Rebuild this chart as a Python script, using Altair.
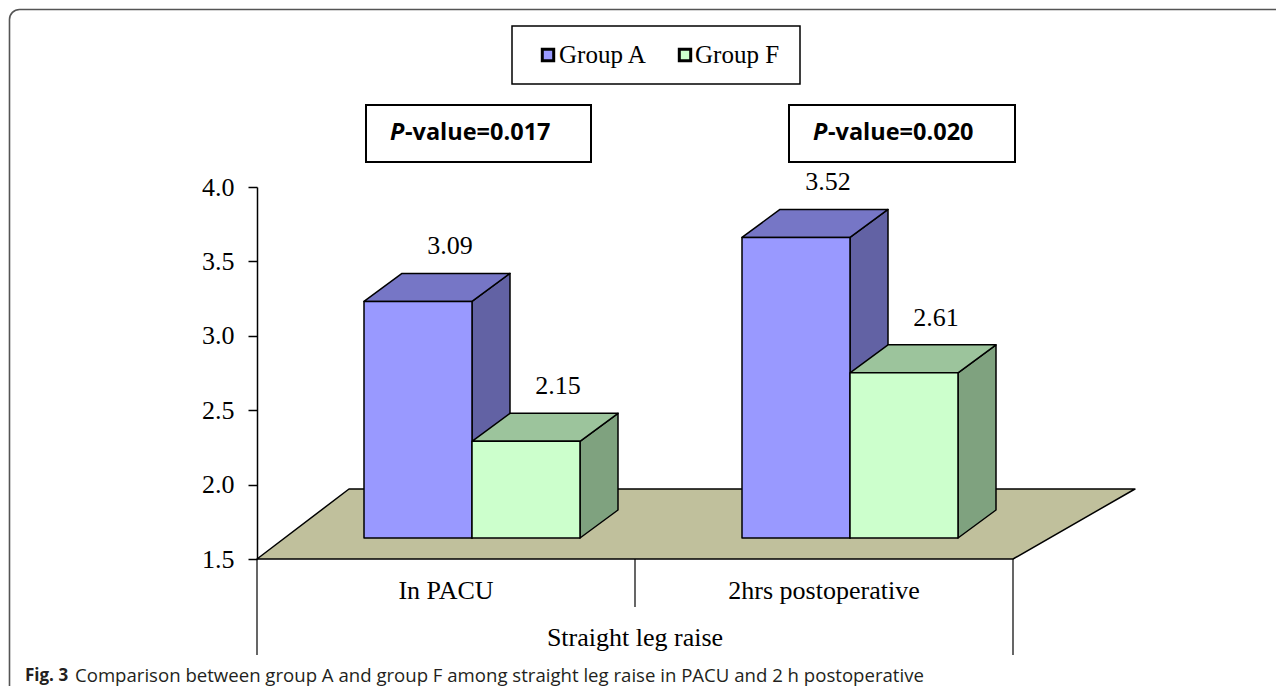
import altair as alt
import pandas as pd

# ---------------- data ----------------
categories = ["In PACU", "2hrs postoperative"]
groups = ["Group A", "Group F"]
group_a = [3.09, 3.52]
group_f = [2.15, 2.61]
p_values = ["0.017", "0.020"]
y_ticks = [1.5, 2.0, 2.5, 3.0, 3.5, 4.0]
x_title = "Straight leg raise"
caption_bold = "Fig. 3"
caption_text = "Comparison between group A and group F among straight leg raise in PACU and 2 h postoperative"

front_colors = ["#9999FF", "#CCFFCC"]
top_colors = ["#7676C6", "#9CC49C"]
side_colors = ["#6262A4", "#7FA27F"]
floor_color = "#C0C09C"

# ---------------- layout ----------------
PAD_L, PAD_T = 249, 179
W, H = 756, 372
SVG_W, SVG_H = 1268, 678
Y0, Y1 = 1.5, 4.0
PX_X = W / len(categories)
PX_Y = H / (Y1 - Y0)


def ux(px):
    return (px - 8 - PAD_L) / PX_X


def uy(py):
    return Y0 + (8 + PAD_T + H - py) / PX_Y


BAR_W = 108 / PX_X
SHIFT = 26 / PX_X
LIFT = 21 / PX_Y
DX = 38 / PX_X
DY = 28 / PX_Y
FLOOR_DXL = 92 / PX_X
FLOOR_DXR = 122 / PX_X
FLOOR_DY = 70 / PX_Y
LABEL_DX = 32 / PX_X
LABEL_DY = 55 / PX_Y

xs = alt.Scale(domain=[0, len(categories)], nice=False, zero=False)
ys = alt.Scale(domain=[Y0, Y1], nice=False, zero=False)
yaxis = alt.Axis(values=y_ticks, format=".1f", title=None, grid=False,
                 labelFont="Liberation Serif", labelFontSize=26, labelColor="black",
                 tickColor="black", tickSize=9, tickWidth=1.5, domainColor="black",
                 domainWidth=1.5, labelPadding=14)


def X(f="x", **kw):
    return alt.X(f"{f}:Q", scale=xs, axis=None, **kw)


def Y(f="y", **kw):
    return alt.Y(f"{f}:Q", scale=ys, axis=yaxis, **kw)


# ---------------- geometry from data ----------------
fronts, sides, tops, labels = [], [], [], []
series = [group_a, group_f]
for i, cat in enumerate(categories):
    c = i + 0.5
    for g, vals in enumerate(series):
        left = c + SHIFT - BAR_W if g == 0 else c + SHIFT
        right = left + BAR_W
        bottom = Y0 + LIFT
        top = vals[i] + LIFT
        bid = f"{cat}-{groups[g]}"
        fronts.append(dict(x=left, x2=right, y=bottom, y2=top, fill=front_colors[g]))
        sides.append(dict(id=bid, x=right, y=top, y2=bottom, fill=side_colors[g]))
        sides.append(dict(id=bid, x=right + DX, y=top + DY, y2=bottom + DY, fill=side_colors[g]))
        tops.append(dict(id=bid, y=top, x=left, x2=right, fill=top_colors[g]))
        tops.append(dict(id=bid, y=top + DY, x=left + DX, x2=right + DX, fill=top_colors[g]))
        labels.append(dict(x=(left + right) / 2 + LABEL_DX, y=top + LABEL_DY, t=f"{vals[i]:.2f}"))

floor = pd.DataFrame([
    dict(y=Y0, x=0, x2=len(categories)),
    dict(y=Y0 + FLOOR_DY, x=FLOOR_DXL, x2=len(categories) + FLOOR_DXR),
])

EDGE = dict(stroke="black", strokeWidth=1.5, strokeJoin="round")

floor_l = alt.Chart(floor).mark_area(orient="horizontal", fill=floor_color, opacity=1, **EDGE).encode(
    y=Y(), x=X(stack=None), x2="x2")

side_l = alt.Chart(pd.DataFrame(sides)).mark_area(orient="vertical", opacity=1, **EDGE).encode(
    x=X(), y=Y(stack=None), y2="y2", detail="id:N", fill=alt.Fill("fill:N", scale=None))

top_l = alt.Chart(pd.DataFrame(tops)).mark_area(orient="horizontal", opacity=1, **EDGE).encode(
    y=Y(), x=X(stack=None), x2="x2", detail="id:N", fill=alt.Fill("fill:N", scale=None))

front_l = alt.Chart(pd.DataFrame(fronts)).mark_rect(opacity=1, **EDGE).encode(
    x=X(), x2="x2", y=Y(), y2="y2", fill=alt.Fill("fill:N", scale=None))

label_l = alt.Chart(pd.DataFrame(labels)).mark_text(
    font="Liberation Serif", fontSize=26, color="black", baseline="middle").encode(
    x=X(), y=Y(), text="t:N")

# ---------------- category axis (below floor) ----------------
dividers = pd.DataFrame([
    dict(x=0, y=Y0, y2=uy(655)),
    dict(x=1, y=Y0, y2=uy(607)),
    dict(x=2, y=Y0, y2=uy(655)),
])
div_l = alt.Chart(dividers).mark_rule(color="black", strokeWidth=1.2).encode(x=X(), y=Y(), y2="y2")

cat_df = pd.DataFrame([dict(x=i + 0.5, y=uy(591), t=c) for i, c in enumerate(categories)]
                      + [dict(x=len(categories) / 2, y=uy(638), t=x_title)])
cat_l = alt.Chart(cat_df).mark_text(font="Liberation Serif", fontSize=26, color="black",
                                    baseline="middle").encode(x=X(), y=Y(), text="t:N")

# ---------------- legend ----------------
leg_box = pd.DataFrame([dict(x=ux(512), x2=ux(800), y=uy(26), y2=uy(84))])
leg_box_l = alt.Chart(leg_box).mark_rect(fill="white", stroke="black", strokeWidth=1.5).encode(
    x=X(), x2="x2", y=Y(), y2="y2")
leg_sym = pd.DataFrame([dict(x=ux(548), y=uy(55), fill=front_colors[0]),
                        dict(x=ux(685), y=uy(55), fill=front_colors[1])])
leg_sym_l = alt.Chart(leg_sym).mark_square(size=130, stroke="black", strokeWidth=3, opacity=1).encode(
    x=X(), y=Y(), fill=alt.Fill("fill:N", scale=None))
leg_txt = pd.DataFrame([dict(x=ux(559), y=uy(55), t=groups[0]),
                        dict(x=ux(695), y=uy(55), t=groups[1])])
leg_txt_l = alt.Chart(leg_txt).mark_text(font="Liberation Serif", fontSize=25, color="black",
                                         align="left", baseline="middle").encode(x=X(), y=Y(), text="t:N")

# ---------------- p-value boxes ----------------
pbox = pd.DataFrame([dict(x=ux(366), x2=ux(591), y=uy(105), y2=uy(162)),
                     dict(x=ux(789), x2=ux(1015), y=uy(105), y2=uy(162))])
pbox_l = alt.Chart(pbox).mark_rect(fill="white", stroke="black", strokeWidth=2).encode(
    x=X(), x2="x2", y=Y(), y2="y2")
p_starts = [390, 813]
pP = pd.DataFrame([dict(x=ux(s), y=uy(133), t="P") for s in p_starts])
pP_l = alt.Chart(pP).mark_text(font="Open Sans", fontSize=23.5, fontWeight="bold", fontStyle="italic",
                               color="black", align="left", baseline="middle").encode(
    x=X(), y=Y(), text="t:N")
pR = pd.DataFrame([dict(x=ux(s + 15), y=uy(133), t=f"-value={p}") for s, p in zip(p_starts, p_values)])
pR_l = alt.Chart(pR).mark_text(font="Open Sans", fontSize=23.5, fontWeight="bold",
                               color="black", align="left", baseline="middle").encode(
    x=X(), y=Y(), text="t:N")

# ---------------- card frame & caption ----------------
card = pd.DataFrame([dict(x=ux(9.5), x2=ux(1300), y=uy(9.5), y2=uy(760))])
card_l = alt.Chart(card).mark_rect(fill="white", fillOpacity=0, stroke="#555555", strokeWidth=1.6,
                                   cornerRadius=10).encode(x=X(), x2="x2", y=Y(), y2="y2")
cap_b_df = pd.DataFrame([dict(x=ux(25), y=uy(676), t=caption_bold)])
cap_n_df = pd.DataFrame([dict(x=ux(75), y=uy(676), t=caption_text)])
cap_b = alt.Chart(cap_b_df).mark_text(font="Open Sans", fontSize=17, fontWeight="bold",
                                      color="#231F20", align="left", baseline="middle").encode(
    x=X(), y=Y(), text="t:N")
cap_n = alt.Chart(cap_n_df).mark_text(font="Open Sans", fontSize=18.6,
                                      color="#231F20", align="left", baseline="middle").encode(
    x=X(), y=Y(), text="t:N")

chart = alt.layer(
    card_l, floor_l, side_l, top_l, front_l, label_l, div_l, cat_l,
    leg_box_l, leg_sym_l, leg_txt_l, pbox_l, pP_l, pR_l, cap_b, cap_n,
).properties(
    width=W, height=H,
    padding={"left": PAD_L, "top": PAD_T, "right": SVG_W - PAD_L - W, "bottom": SVG_H - PAD_T - H},
    autosize=alt.AutoSizeParams(type="none"),
    background="white",
).configure_view(stroke=None)

chart.save("out.html", embed_options={"renderer": "svg", "actions": False})
